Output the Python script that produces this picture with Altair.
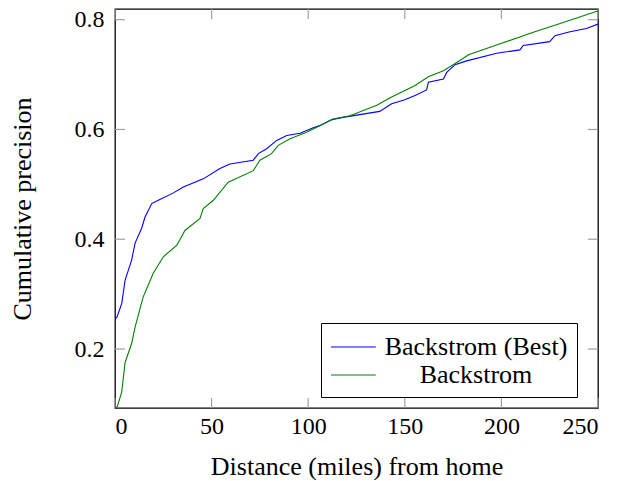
import altair as alt
import pandas as pd

# ---- data ----
blue_x = [0, 1, 3.5, 5.2, 8.6, 10.4, 13.8, 15.5, 19, 22.4, 30, 35.4, 45.7, 54.3, 59.5, 71.6, 74.2,
          78.5, 83.7, 88.9, 95.8, 102.6, 106, 112.2, 118, 137, 143.2, 150, 155.3, 161.3, 162.2,
          170, 171.7, 176, 182, 197.6, 209.6, 211.3, 225, 227.7, 235.5, 244, 250]
blue_y = [0.255, 0.258, 0.283, 0.325, 0.362, 0.393, 0.42, 0.44, 0.465, 0.471, 0.484, 0.495, 0.51,
          0.529, 0.537, 0.544, 0.556, 0.565, 0.58, 0.589, 0.593, 0.603, 0.607, 0.618, 0.622, 0.633,
          0.647, 0.654, 0.662, 0.672, 0.686, 0.692, 0.704, 0.718, 0.725, 0.739, 0.745, 0.753, 0.76,
          0.771, 0.778, 0.784, 0.792]
green_x = [0, 1.2, 3.5, 5.2, 8.6, 10.4, 14.6, 19.8, 25, 32, 36.2, 44, 45.7, 50.9, 58.6, 71.6, 75,
           81, 84.5, 90.6, 99.2, 104.4, 113, 121.6, 135.5, 143.2, 155.3, 162.2, 170, 176.9, 183,
           199.3, 216.5, 232, 244, 250]
green_y = [0.093, 0.095, 0.122, 0.175, 0.21, 0.24, 0.295, 0.338, 0.368, 0.389, 0.416, 0.438, 0.456,
           0.471, 0.504, 0.525, 0.544, 0.556, 0.571, 0.583, 0.595, 0.604, 0.619, 0.625, 0.644,
           0.659, 0.68, 0.696, 0.707, 0.722, 0.736, 0.756, 0.777, 0.795, 0.809, 0.816]
series_names = ["Backstrom (Best)", "Backstrom"]
series_colors = ["#0000ff", "#008000"]
x_ticks = [0, 50, 100, 150, 200, 250]
y_ticks = [0.2, 0.4, 0.6, 0.8]

W, H = 483, 399
FONT = "Liberation Serif"
TICK_LEN = 10
TICK_COLOR = "#a0a0a0"

df = pd.concat([
    pd.DataFrame({"x": blue_x, "y": blue_y, "s": series_names[0], "o": range(len(blue_x))}),
    pd.DataFrame({"x": green_x, "y": green_y, "s": series_names[1], "o": range(len(green_x))}),
])
xt = pd.DataFrame({"v": x_ticks})
yt = pd.DataFrame({"v": y_ticks})

xscale = alt.Scale(domain=[0, 250], nice=False, zero=False)
yscale = alt.Scale(domain=[0.0925, 0.8195], nice=False, zero=False)

lines = alt.Chart(df).mark_line(strokeWidth=1.1, clip=True).encode(
    x=alt.X("x:Q", scale=xscale,
            axis=alt.Axis(title="Distance (miles) from home", values=x_ticks, ticks=False,
                          domain=False, grid=False, labelFont=FONT, labelFontSize=24,
                          labelPadding=6, titleFont=FONT, titleFontSize=26,
                          titleFontWeight="normal", titlePadding=15, labelColor="black",
                          titleColor="black")),
    y=alt.Y("y:Q", scale=yscale,
            axis=alt.Axis(title="Cumulative precision", values=y_ticks, format=".1f",
                          ticks=False, domain=False, grid=False, labelFont=FONT,
                          labelFontSize=24, labelPadding=11, titleFont=FONT,
                          titleFontSize=26, titleFontWeight="normal", titlePadding=39,
                          labelColor="black", titleColor="black")),
    color=alt.Color("s:N", title=None,
                    scale=alt.Scale(domain=series_names, range=series_colors),
                    legend=alt.Legend(orient="none", legendX=206, legendY=314,
                                      strokeColor="black", fillColor="white", padding=9,
                                      cornerRadius=0, symbolType="M-1,0H2.2", symbolSize=784,
                                      symbolStrokeWidth=1.1, labelOffset=116,
                                      labelAlign="center",
                                      labelFont=FONT, labelFontSize=26, labelLimit=400,
                                      labelColor="black", rowPadding=0)),
    order="o:Q",
)

rule_kw = dict(color=TICK_COLOR, strokeWidth=1.2)
bottom = alt.Chart(xt).mark_rule(**rule_kw).encode(
    x=alt.X("v:Q", scale=xscale), y=alt.value(H), y2=alt.value(H - TICK_LEN))
top = alt.Chart(xt).mark_rule(**rule_kw).encode(
    x=alt.X("v:Q", scale=xscale), y=alt.value(0), y2=alt.value(TICK_LEN))
left = alt.Chart(yt).mark_rule(**rule_kw).encode(
    y=alt.Y("v:Q", scale=yscale), x=alt.value(0), x2=alt.value(TICK_LEN))
right = alt.Chart(yt).mark_rule(**rule_kw).encode(
    y=alt.Y("v:Q", scale=yscale), x=alt.value(W - TICK_LEN), x2=alt.value(W))

chart = alt.layer(bottom, top, left, right, lines).properties(
    width=W, height=H,
    background="white",
    autosize=alt.AutoSizeParams(type="none"),
    padding={"left": 107, "top": 1, "right": 12, "bottom": 72},
).configure_view(stroke="black", strokeWidth=1.3)

chart.save("out.html", embed_options={"renderer": "svg", "actions": False})
